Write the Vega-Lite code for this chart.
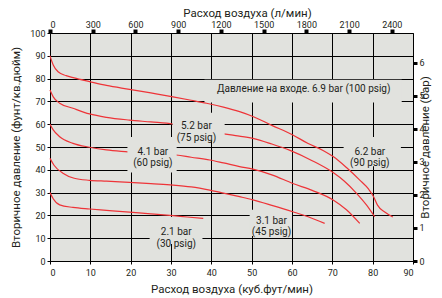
{
  "$schema": "https://vega.github.io/schema/vega-lite/v6.json",
  "autosize": {"type": "none"},
  "padding": {"left": 50, "top": 33, "right": 29, "bottom": 37},
  "width": 363,
  "height": 228,
  "background": "#ffffff",
  "config": {
    "view": {"fill": "#e1e2de", "stroke": "#3a3a3a", "strokeWidth": 1},
    "font": "Roboto",
    "axis": {
      "labelFont": "Roboto", "titleFont": "Roboto",
      "labelColor": "#231f20", "titleColor": "#231f20",
      "titleFontWeight": "normal", "labelFontSize": 9, "titleFontSize": 11.5,
      "tickColor": "#000000", "domain": false,
      "gridColor": "#000000", "gridOpacity": 1, "gridWidth": 1
    }
  },
  "datasets": {
    "curves": [
      {"p": "100", "cfm": 0, "psi": 90}, {"p": "100", "cfm": 0.8, "psi": 86}, {"p": "100", "cfm": 2, "psi": 83}, {"p": "100", "cfm": 4, "psi": 81.3}, {"p": "100", "cfm": 6, "psi": 80.3}, {"p": "100", "cfm": 9.8, "psi": 78.7}, {"p": "100", "cfm": 14, "psi": 77}, {"p": "100", "cfm": 19.7, "psi": 75.3}, {"p": "100", "cfm": 25, "psi": 73.7}, {"p": "100", "cfm": 30.5, "psi": 72}, {"p": "100", "cfm": 35, "psi": 70.5}, {"p": "100", "cfm": 38.8, "psi": 69.2}, {"p": "100", "cfm": 43, "psi": 67.5}, {"p": "100", "cfm": 47, "psi": 65.5}, {"p": "100", "cfm": 50.3, "psi": 63.4}, {"p": "100", "cfm": 55, "psi": 59.5}, {"p": "100", "cfm": 60.2, "psi": 55.3}, {"p": "100", "cfm": 64, "psi": 51.5}, {"p": "100", "cfm": 67.7, "psi": 48.5}, {"p": "100", "cfm": 70.2, "psi": 45.8}, {"p": "100", "cfm": 73.5, "psi": 41}, {"p": "100", "cfm": 76.8, "psi": 35.5}, {"p": "100", "cfm": 79, "psi": 31.5}, {"p": "100", "cfm": 80.3, "psi": 28}, {"p": "100", "cfm": 81.2, "psi": 24.5}, {"p": "100", "cfm": 83, "psi": 21.5}, {"p": "100", "cfm": 85, "psi": 19.3},
      {"p": "75", "cfm": 0, "psi": 75}, {"p": "75", "cfm": 0.8, "psi": 72}, {"p": "75", "cfm": 2.4, "psi": 69.2}, {"p": "75", "cfm": 5.7, "psi": 67}, {"p": "75", "cfm": 9.8, "psi": 64.5}, {"p": "75", "cfm": 14, "psi": 63}, {"p": "75", "cfm": 19.7, "psi": 61.8}, {"p": "75", "cfm": 25, "psi": 61}, {"p": "75", "cfm": 30.5, "psi": 60.1}, {"p": "75", "cfm": 36, "psi": 58.2}, {"p": "75", "cfm": 42.1, "psi": 56}, {"p": "75", "cfm": 46, "psi": 55}, {"p": "75", "cfm": 50.3, "psi": 53.8}, {"p": "75", "cfm": 55, "psi": 51.3}, {"p": "75", "cfm": 59.5, "psi": 48.5}, {"p": "75", "cfm": 65, "psi": 44}, {"p": "75", "cfm": 70.2, "psi": 38.8}, {"p": "75", "cfm": 73, "psi": 35}, {"p": "75", "cfm": 76, "psi": 29.7}, {"p": "75", "cfm": 78.5, "psi": 24.5}, {"p": "75", "cfm": 80.5, "psi": 19.4},
      {"p": "60", "cfm": 0, "psi": 60}, {"p": "60", "cfm": 0.8, "psi": 57.5}, {"p": "60", "cfm": 2.4, "psi": 54.5}, {"p": "60", "cfm": 5.7, "psi": 51.6}, {"p": "60", "cfm": 9.8, "psi": 49.9}, {"p": "60", "cfm": 14, "psi": 48.7}, {"p": "60", "cfm": 19.3, "psi": 47.9}, {"p": "60", "cfm": 25, "psi": 47.1}, {"p": "60", "cfm": 31.3, "psi": 46.5}, {"p": "60", "cfm": 35, "psi": 45.5}, {"p": "60", "cfm": 39.6, "psi": 44.3}, {"p": "60", "cfm": 43, "psi": 43}, {"p": "60", "cfm": 47, "psi": 41.4}, {"p": "60", "cfm": 50.3, "psi": 40.3}, {"p": "60", "cfm": 55, "psi": 37.8}, {"p": "60", "cfm": 60.2, "psi": 34}, {"p": "60", "cfm": 65, "psi": 31}, {"p": "60", "cfm": 70.2, "psi": 26.8}, {"p": "60", "cfm": 73.5, "psi": 22.5}, {"p": "60", "cfm": 76.8, "psi": 16.5},
      {"p": "45", "cfm": 0, "psi": 45}, {"p": "45", "cfm": 1, "psi": 42}, {"p": "45", "cfm": 3.2, "psi": 38.5}, {"p": "45", "cfm": 6, "psi": 36.3}, {"p": "45", "cfm": 9.8, "psi": 35.4}, {"p": "45", "cfm": 14, "psi": 35}, {"p": "45", "cfm": 19.7, "psi": 34.5}, {"p": "45", "cfm": 25, "psi": 33.9}, {"p": "45", "cfm": 30.5, "psi": 33.3}, {"p": "45", "cfm": 35, "psi": 32.5}, {"p": "45", "cfm": 39.6, "psi": 31.1}, {"p": "45", "cfm": 43, "psi": 29.8}, {"p": "45", "cfm": 47, "psi": 28.2}, {"p": "45", "cfm": 50.3, "psi": 26.8}, {"p": "45", "cfm": 55, "psi": 24.4}, {"p": "45", "cfm": 60.2, "psi": 21.6}, {"p": "45", "cfm": 64, "psi": 19.4}, {"p": "45", "cfm": 68.1, "psi": 16.5},
      {"p": "30", "cfm": 0, "psi": 30}, {"p": "30", "cfm": 0.8, "psi": 27.3}, {"p": "30", "cfm": 2.4, "psi": 24.6}, {"p": "30", "cfm": 5.7, "psi": 23.5}, {"p": "30", "cfm": 9.8, "psi": 22.8}, {"p": "30", "cfm": 14, "psi": 22.2}, {"p": "30", "cfm": 19.7, "psi": 21.4}, {"p": "30", "cfm": 25, "psi": 20.7}, {"p": "30", "cfm": 30.5, "psi": 19.9}, {"p": "30", "cfm": 34, "psi": 19.3}, {"p": "30", "cfm": 38, "psi": 18.7}
    ],
    "boxes": [
      {"x1": 38.3, "x2": 87.2, "y1": 69.5, "y2": 79.5},
      {"x1": 30.4, "x2": 43.3, "y1": 53, "y2": 65},
      {"x1": 19.2, "x2": 31.4, "y1": 38.8, "y2": 54.4},
      {"x1": 72.8, "x2": 87, "y1": 41.6, "y2": 54.4},
      {"x1": 49.5, "x2": 60, "y1": 11, "y2": 22.5},
      {"x1": 24.7, "x2": 37.8, "y1": 7.5, "y2": 19.3}
    ],
    "labels": [
      {"t": "Давление на входе. 6.9 bar (100 psig)", "cfm": 62.9, "psi": 75.3},
      {"t": "5.2 bar\n(75 psig)", "cfm": 36.3, "psi": 59},
      {"t": "4.1 bar\n(60 psig)", "cfm": 25.5, "psi": 48},
      {"t": "6.2 bar\n(90 psig)", "cfm": 79.3, "psi": 48},
      {"t": "3.1 bar\n(45 psig)", "cfm": 54.9, "psi": 17.6},
      {"t": "2.1 bar\n(30 psig)", "cfm": 31.3, "psi": 12.7}
    ]
  },
  "layer": [
    {
      "layer": [
        {
          "data": {"name": "curves"},
          "transform": [{"filter": "datum.p == '75' || datum.p == '60'"}],
          "mark": {"type": "line", "color": "#ee3438", "strokeWidth": 1.2, "interpolate": "monotone"},
          "encoding": {
            "x": {"field": "cfm", "type": "quantitative", "scale": {"domain": [0, 90], "nice": false},
              "axis": {"orient": "bottom", "values": [0, 10, 20, 30, 40, 50, 60, 70, 80, 90], "grid": true, "tickSize": 3, "labelPadding": 4, "title": "Расход воздуха (куб.фут/мин)", "titlePadding": 6}},
            "y": {"field": "psi", "type": "quantitative", "scale": {"domain": [0, 100], "nice": false},
              "axis": {"orient": "left", "values": [0, 10, 20, 30, 40, 50, 60, 70, 80, 90, 100], "grid": true, "tickSize": 3, "labelPadding": 2, "title": "Вторичное давление (фунт/кв.дюйм)", "titlePadding": 8}},
            "detail": {"field": "p"}
          }
        },
        {
          "data": {"name": "boxes"},
          "mark": {"type": "rect", "color": "#e1e2de"},
          "encoding": {
            "x": {"field": "x1", "type": "quantitative",
              "axis": {"orient": "bottom", "values": [0, 10, 20, 30, 40, 50, 60, 70, 80, 90], "grid": true, "tickSize": 3, "labelPadding": 4, "title": "Расход воздуха (куб.фут/мин)", "titlePadding": 6}},
            "x2": {"field": "x2"},
            "y": {"field": "y1", "type": "quantitative",
              "axis": {"orient": "left", "values": [0, 10, 20, 30, 40, 50, 60, 70, 80, 90, 100], "grid": true, "tickSize": 3, "labelPadding": 2, "title": "Вторичное давление (фунт/кв.дюйм)", "titlePadding": 8}},
            "y2": {"field": "y2"}
          }
        },
        {
          "data": {"name": "curves"},
          "transform": [{"filter": "datum.p == '100' || datum.p == '45' || datum.p == '30'"}],
          "mark": {"type": "line", "color": "#ee3438", "strokeWidth": 1.2, "interpolate": "monotone"},
          "encoding": {
            "x": {"field": "cfm", "type": "quantitative",
              "axis": {"orient": "bottom", "values": [0, 10, 20, 30, 40, 50, 60, 70, 80, 90], "grid": true, "tickSize": 3, "labelPadding": 4, "title": "Расход воздуха (куб.фут/мин)", "titlePadding": 6}},
            "y": {"field": "psi", "type": "quantitative",
              "axis": {"orient": "left", "values": [0, 10, 20, 30, 40, 50, 60, 70, 80, 90, 100], "grid": true, "tickSize": 3, "labelPadding": 2, "title": "Вторичное давление (фунт/кв.дюйм)", "titlePadding": 8}},
            "detail": {"field": "p"}
          }
        },
        {
          "data": {"name": "labels"},
          "mark": {"type": "text", "lineBreak": "\n", "fontSize": 10, "color": "#231f20", "align": "center", "baseline": "middle", "lineHeight": 11.5, "font": "Roboto"},
          "encoding": {
            "x": {"field": "cfm", "type": "quantitative",
              "axis": {"orient": "bottom", "values": [0, 10, 20, 30, 40, 50, 60, 70, 80, 90], "grid": true, "tickSize": 3, "labelPadding": 4, "title": "Расход воздуха (куб.фут/мин)", "titlePadding": 6}},
            "y": {"field": "psi", "type": "quantitative",
              "axis": {"orient": "left", "values": [0, 10, 20, 30, 40, 50, 60, 70, 80, 90, 100], "grid": true, "tickSize": 3, "labelPadding": 2, "title": "Вторичное давление (фунт/кв.дюйм)", "titlePadding": 8}},
            "text": {"field": "t"}
          }
        }
      ]
    },
    {
      "data": {"values": [{"lmin": 0}, {"lmin": 2548.8}]},
      "mark": {"type": "point", "opacity": 0},
      "encoding": {
        "x": {"field": "lmin", "type": "quantitative", "scale": {"domain": [0, 2548.8], "nice": false},
          "axis": {"orient": "top", "values": [0, 300, 600, 900, 1200, 1500, 1800, 2100, 2400], "format": "d", "grid": false, "tickSize": 4, "tickWidth": 4, "labelPadding": 0, "title": "Расход воздуха (л/мин)", "titlePadding": 2, "titleX": 197}}
      }
    },
    {
      "data": {"values": [{"bar": 0}, {"bar": 6.8966}]},
      "mark": {"type": "point", "opacity": 0},
      "encoding": {
        "y": {"field": "bar", "type": "quantitative", "scale": {"domain": [0, 6.8966], "nice": false},
          "axis": {"orient": "right", "values": [0, 1, 2, 3, 4, 5, 6], "grid": false, "tickSize": 4, "tickWidth": 3, "labelPadding": 2, "title": "Вторичное давление (бар)", "titleAngle": 270, "titlePadding": 6}}
      }
    }
  ],
  "resolve": {"scale": {"x": "independent", "y": "independent"}}
}
